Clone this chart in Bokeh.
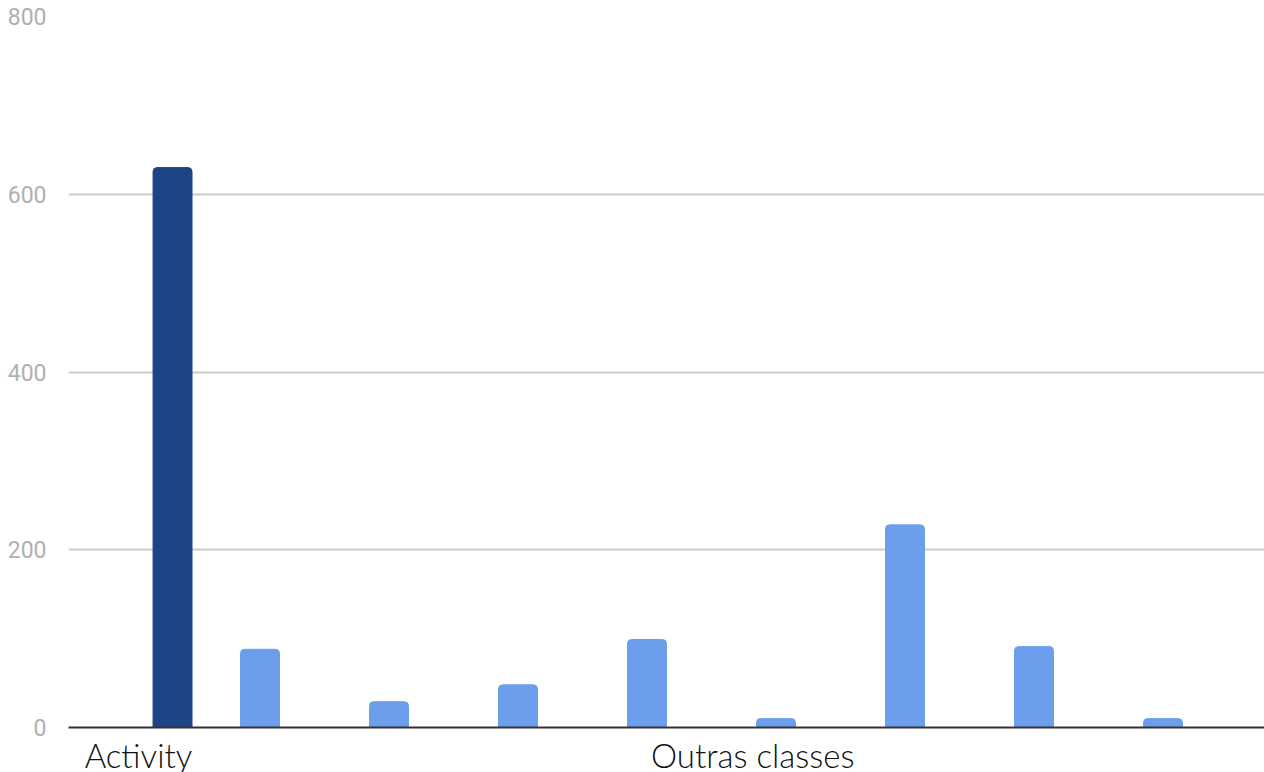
from bokeh.plotting import figure
from bokeh.models import ColumnDataSource, FixedTicker, Range1d
from bokeh.embed import file_html
from bokeh.resources import INLINE

# --- data ---
groups = ["Activity", "Outras classes", "Outras classes", "Outras classes", "Outras classes",
          "Outras classes", "Outras classes", "Outras classes", "Outras classes"]
values = [630, 88, 29, 48, 99, 10, 228, 91, 10]
group_labels = ["Activity", "Outras classes"]
y_ticks = [0, 200, 400, 600, 800]

# --- layout helpers (positions, not data) ---
positions = [0.322] + [float(i) for i in range(1, len(values))]
label_positions = [0.058, 4.82]
colors = ["#1c4587" if g == "Activity" else "#6d9eeb" for g in groups]

src = ColumnDataSource(dict(x=positions, top=values, color=colors, group=groups))

p = figure(frame_width=1196, frame_height=711, output_backend="svg", toolbar_location=None,
           x_range=Range1d(-0.4845, 8.787), y_range=Range1d(0, 800))
p.min_border_left = 68
p.min_border_top = 16
p.min_border_bottom = 45
p.min_border_right = 0
p.outline_line_color = None
p.background_fill_color = "white"
p.border_fill_color = "white"

p.vbar(x="x", top="top", bottom=0, width=0.302, color="color", source=src,
       border_radius=(4, 4, 0, 0))

# y axis
p.yaxis.ticker = FixedTicker(ticks=y_ticks)
p.yaxis.axis_line_color = None
p.yaxis.major_tick_line_color = None
p.yaxis.minor_tick_line_color = None
p.yaxis.major_label_text_font = "Roboto"
p.yaxis.major_label_text_font_size = "23px"
p.yaxis.major_label_text_color = "#b0b0b0"
p.yaxis.major_label_standoff = 16

# x axis
p.xaxis.ticker = FixedTicker(ticks=label_positions)
p.xaxis.major_label_overrides = {label_positions[i]: group_labels[i] for i in range(len(group_labels))}
p.xaxis.axis_line_color = "#333333"
p.xaxis.axis_line_width = 2
p.xaxis.major_tick_line_color = None
p.xaxis.minor_tick_line_color = None
p.xaxis.major_label_text_font = "Lato Light, Lato"
p.xaxis.major_label_text_font_size = "33px"
p.xaxis.major_label_text_color = "#111111"
p.xaxis.major_label_standoff = 1

p.xgrid.grid_line_color = None
p.ygrid.grid_line_color = "#cccccc"
p.ygrid.grid_line_width = 2

open("out.html", "w").write(file_html(p, INLINE))
